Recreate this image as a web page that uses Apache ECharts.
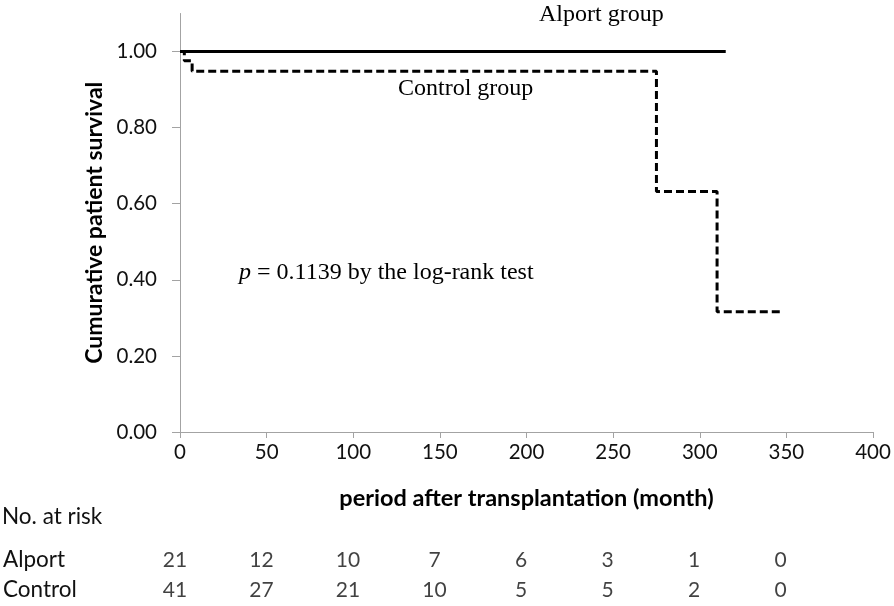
<!DOCTYPE html>
<html>
<head>
<meta charset="utf-8">
<script src="https://cdn.jsdelivr.net/npm/echarts@6/dist/echarts.min.js"></script>
<style>html,body{margin:0;padding:0;background:#fff}#c{width:894px;height:606px}</style>
</head>
<body>
<div id="c"></div>
<script>
// Kaplan-Meier step points [month, survival]
const alportCurve = [[0, 1.0], [315, 1.0]];
const controlCurve = [[0, 1.0], [2.5, 0.976], [7, 0.948], [275, 0.632], [310, 0.316], [347, 0.316]];
const yTicks = [0, 0.2, 0.4, 0.6, 0.8, 1.0];
const xTicks = [0, 50, 100, 150, 200, 250, 300, 350, 400];
const riskTimes = [0, 50, 100, 150, 200, 250, 300, 350];
const riskGroups = ['Alport', 'Control'];
const riskAlport = [21, 12, 10, 7, 6, 3, 1, 0];
const riskControl = [41, 27, 21, 10, 5, 5, 2, 0];

const sans = 'Lato, "Open Sans", sans-serif';
const serif = '"Liberation Serif", "DejaVu Serif", serif';
const axisGray = '#a3a3a3';

const riskData = [];
riskTimes.forEach((t, i) => {
  riskData.push([t, 'Alport', riskAlport[i]]);
  riskData.push([t, 'Control', riskControl[i]]);
});

const chart = echarts.init(document.getElementById('c'));
chart.setOption({
  animation: false,
  backgroundColor: '#fff',
  grid: [
    { left: 180, right: 21, top: 13.5, bottom: 174 },
    { left: 180, right: 21, top: 545, height: 60 }
  ],
  xAxis: [
    {
      type: 'value', gridIndex: 0, min: 0, max: 400, interval: 50,
      name: 'period after transplantation (month)', nameLocation: 'middle', nameGap: 54,
      nameTextStyle: { fontFamily: sans, fontWeight: 'bold', fontSize: 23.5, color: '#000' },
      axisLine: { show: true, lineStyle: { color: axisGray, width: 1 } },
      axisTick: { show: true, length: 6, lineStyle: { color: axisGray } },
      axisLabel: { fontFamily: sans, fontSize: 20.5, color: '#111', margin: 10, customValues: xTicks },
      splitLine: { show: false }
    },
    { type: 'value', gridIndex: 1, min: 0, max: 400, show: false }
  ],
  yAxis: [
    {
      type: 'value', gridIndex: 0, min: 0, max: 1.1,
      name: 'Cumurative patient survival', nameLocation: 'middle', nameGap: 70,
      nameTextStyle: { fontFamily: sans, fontWeight: 'bold', fontSize: 23, color: '#000' },
      axisLine: { show: true, lineStyle: { color: axisGray, width: 1 } },
      axisTick: { show: true, length: 8, lineStyle: { color: axisGray }, customValues: yTicks },
      axisLabel: { fontFamily: sans, fontSize: 20.5, color: '#111', margin: 23, customValues: yTicks,
        formatter: v => v.toFixed(2) },
      splitLine: { show: false }
    },
    {
      type: 'category', gridIndex: 1, data: riskGroups, inverse: true,
      axisLine: { show: false }, axisTick: { show: false }, splitLine: { show: false },
      axisLabel: { fontFamily: sans, fontSize: 22.5, color: '#111', align: 'left', margin: 178 }
    }
  ],
  series: [
    {
      name: 'Alport group', type: 'line', xAxisIndex: 0, yAxisIndex: 0,
      data: alportCurve, showSymbol: false, symbol: 'none', clip: false,
      lineStyle: { color: '#000', width: 3, type: 'solid' }
    },
    {
      name: 'Control group', type: 'line', xAxisIndex: 0, yAxisIndex: 0, step: 'end',
      data: controlCurve, showSymbol: false, symbol: 'none', clip: false,
      lineStyle: { color: '#000', width: 3, type: [8, 4] }
    },
    {
      name: 'No. at risk', type: 'scatter', xAxisIndex: 1, yAxisIndex: 1,
      data: riskData, symbolSize: 1, itemStyle: { color: 'rgba(0,0,0,0)' },
      label: { show: true, position: 'inside', offset: [-6, 0], formatter: p => String(p.value[2]),
        fontFamily: sans, fontSize: 21, color: '#111' }
    }
  ],
  graphic: [
    { type: 'text', left: 2, top: 505, style: { text: 'No. at risk', font: '22.5px ' + sans, fill: '#111' } },
    { type: 'text', left: 539, top: 3, style: { text: 'Alport group', font: '24px ' + serif, fill: '#000' } },
    { type: 'text', left: 398, top: 77, style: { text: 'Control group', font: '24px ' + serif, fill: '#000' } },
    { type: 'text', left: 239, top: 261, style: {
        text: '{i|p} = 0.1139 by the log-rank test',
        font: '24px ' + serif, fill: '#000',
        rich: { i: { fontStyle: 'italic', fontFamily: serif, fontSize: 24, fill: '#000' } } } }
  ]
});
</script>
</body>
</html>
